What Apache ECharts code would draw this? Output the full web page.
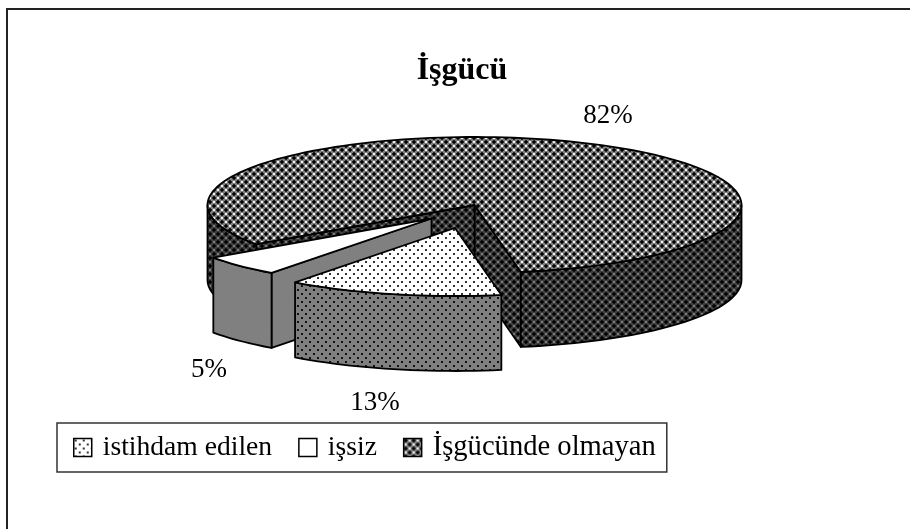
<!DOCTYPE html>
<html>
<head>
<meta charset="utf-8">
<style>
  html, body { margin: 0; padding: 0; background: #fff; }
  #chart { width: 910px; height: 529px; }
</style>
<script src="https://cdn.jsdelivr.net/npm/echarts@6/dist/echarts.min.js"></script>
</head>
<body>
<div id="chart"></div>
<script>
const chartTitle = 'İşgücü'
const categories = ['istihdam edilen', 'işsiz', 'İşgücünde olmayan']
const percents = [13, 5, 82]

// layout of the tilted pie
const cx = 474.5
const cy = 205
const rx = 267
const ry = 68
const depth = 75
const startAngle = 170 // degrees clockwise from the top
const explode = [[-19.5, 23], [-43, 13.5], [0, 0]]
const labelPos = [[375, 403], [209, 370], [608, 116]]
const seriesZ = [4, 3, 2]
const legendFontSize = [27.6, 27.6, 28.6]
const font = '"Liberation Serif", "Times New Roman", serif'

// 8x8 tile: base colour, marks drawn on a half-drop grid
const makeTile = (base, draw) => {
  const c = document.createElement('canvas')
  c.width = 8
  c.height = 8
  const g = c.getContext('2d')
  g.fillStyle = base
  g.fillRect(0, 0, 8, 8)
  draw(g)
  return { image: c, repeat: 'repeat' }
}
const dots = (dark) => (g) => {
  g.fillStyle = dark
  g.fillRect(1, 1, 2, 2)
  g.fillRect(5, 5, 2, 2)
}
const crosses = (arm, speck) => (g) => {
  ;[[1, 1], [5, 5]].forEach(([x, y]) => {
    g.fillStyle = arm
    g.fillRect(x - 1, y, 4, 2)
    g.fillRect(x, y - 1, 2, 4)
    g.fillStyle = '#000'
    g.fillRect(x, y, 2, 2)
  })
  g.fillStyle = speck
  g.fillRect(5, 1, 2, 2)
  g.fillRect(1, 5, 2, 2)
}

const topFill = [
  makeTile('#fff', dots('#333')),
  '#fff',
  makeTile('#808080', crosses('#262626', '#f0f0f0'))
]
const sideFill = [
  makeTile('#808080', dots('#111')),
  '#808080',
  makeTile('#3f3f3f', crosses('#141414', '#7a7a7a'))
]

const pt = (deg, ox, oy, dz) => {
  const a = (deg * Math.PI) / 180
  return [cx + ox + rx * Math.sin(a), cy + oy - ry * Math.cos(a) + dz]
}

const arc = (from, to, ox, oy, dz) => {
  const out = []
  const n = Math.max(2, Math.ceil((to - from) / 2))
  for (let i = 0; i <= n; i++) out.push(pt(from + ((to - from) * i) / n, ox, oy, dz))
  return out
}

const poly = (points, fill) => ({
  type: 'polygon',
  shape: { points },
  style: { fill, stroke: '#000', lineWidth: 1.8, lineJoin: 'round' }
})

const sliceStart = (idx) => {
  let s = startAngle
  for (let i = 0; i < idx; i++) s += (percents[i] / 100) * 360
  return s
}

const renderSlice = (idx) => (params, api) => {
  const from = sliceStart(idx)
  const to = from + (api.value(0) / 100) * 360
  const [ox, oy] = explode[idx]
  const apex = [cx + ox, cy + oy]
  const apexLow = [apex[0], apex[1] + depth]
  const children = []

  // cut faces, only when they turn towards the viewer
  if (Math.sin((to * Math.PI) / 180) > 0) {
    children.push(poly([apex, pt(to, ox, oy, 0), pt(to, ox, oy, depth), apexLow], sideFill[idx]))
  }
  if (Math.sin((from * Math.PI) / 180) < 0) {
    children.push(poly([apex, pt(from, ox, oy, 0), pt(from, ox, oy, depth), apexLow], sideFill[idx]))
  }

  // outer wall on the front half of the ellipse
  ;[[90, 270], [450, 630]].forEach(([a, b]) => {
    const lo = Math.max(from, a)
    const hi = Math.min(to, b)
    if (hi > lo) {
      children.push(poly(arc(lo, hi, ox, oy, 0).concat(arc(lo, hi, ox, oy, depth).reverse()), sideFill[idx]))
    }
  })

  children.push(poly([apex].concat(arc(from, to, ox, oy, 0)), topFill[idx]))

  children.push({
    type: 'text',
    style: {
      text: api.value(0) + '%',
      x: labelPos[idx][0],
      y: labelPos[idx][1],
      align: 'center',
      verticalAlign: 'middle',
      fill: '#000',
      font: '27px ' + font
    }
  })
  return { type: 'group', children }
}

const chart = echarts.init(document.getElementById('chart'), null, { renderer: 'canvas' })
chart.setOption({
  backgroundColor: '#fff',
  animation: false,
  title: {
    text: chartTitle,
    left: 457,
    top: 50,
    textAlign: 'center',
    textStyle: { fontFamily: font, fontSize: 32, fontWeight: 'bold', color: '#000' }
  },
  legend: {
    left: 57,
    top: 423,
    padding: [10, 11, 10, 16],
    borderColor: '#333',
    borderWidth: 1.5,
    selectedMode: false,
    itemWidth: 18,
    itemHeight: 18,
    itemGap: 26,
    textStyle: { fontFamily: font, fontSize: 27.6, color: '#000', padding: [14, 0, 0, 6] },
    data: categories.map((name, i) => ({
      name,
      icon: 'rect',
      itemStyle: { color: topFill[i], borderColor: '#000', borderWidth: 1.5 },
      textStyle: { fontFamily: font, fontSize: legendFontSize[i], color: '#000', padding: [14, 0, 0, 6] }
    }))
  },
  graphic: [{
    type: 'polyline',
    silent: true,
    shape: { points: [[7, 529], [7, 9], [910, 9]] },
    style: { fill: 'none', stroke: '#222', lineWidth: 2 }
  }],
  series: categories.map((name, i) => ({
    name,
    type: 'custom',
    coordinateSystem: 'none',
    z: seriesZ[i],
    silent: true,
    renderItem: renderSlice(i),
    data: [[percents[i]]]
  }))
})
</script>
</body>
</html>
